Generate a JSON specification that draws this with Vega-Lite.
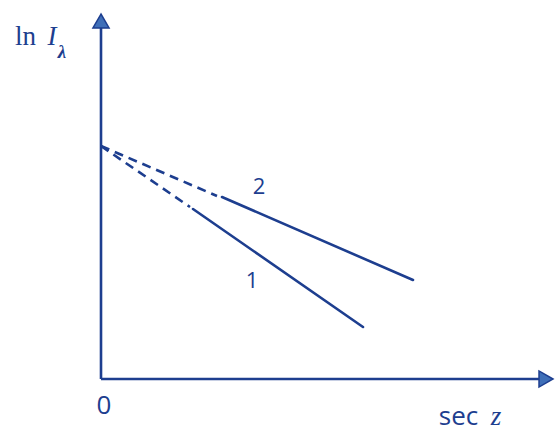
{
  "$schema": "https://vega.github.io/schema/vega-lite/v6.json",
  "width": 557,
  "height": 431,
  "autosize": {"type": "fit", "contains": "padding"},
  "padding": 0,
  "background": "white",
  "config": {"view": {"stroke": null}},
  "datasets": {
    "axes": [
      {"axis": "ln I", "x": 0, "y": 0, "x2": 0, "y2": 3.55},
      {"axis": "sec z", "x": 0, "y": 0, "x2": 4.42, "y2": 0}
    ],
    "heads": [
      {"axis": "ln I", "x": 0, "y": 3.58, "dir": "up"},
      {"axis": "sec z", "x": 4.45, "y": 0, "dir": "right"}
    ],
    "segments": [
      {"series": "1", "part": "extrapolated", "x": 0, "y": 2.33, "x2": 0.89, "y2": 1.72},
      {"series": "1", "part": "measured", "x": 0.92, "y": 1.70, "x2": 2.62, "y2": 0.52},
      {"series": "2", "part": "extrapolated", "x": 0, "y": 2.33, "x2": 1.16, "y2": 1.83},
      {"series": "2", "part": "measured", "x": 1.21, "y": 1.82, "x2": 3.12, "y2": 0.99}
    ],
    "seriesLabels": [
      {"label": "2", "x": 1.58, "y": 1.92},
      {"label": "1", "x": 1.51, "y": 0.98}
    ],
    "sansText": [
      {"t": "0", "x": 0.03, "y": -0.345},
      {"t": "sec", "x": 3.575, "y": -0.455}
    ],
    "romanText": [
      {"t": "ln", "x": -0.755, "y": 3.34}
    ],
    "italicText": [
      {"t": "I", "x": -0.49, "y": 3.34},
      {"t": "z", "x": 3.95, "y": -0.455}
    ]
  },
  "encoding": {
    "x": {"field": "x", "type": "quantitative", "scale": {"domain": [-1.01, 4.56], "nice": false, "zero": false}, "axis": null},
    "y": {"field": "y", "type": "quantitative", "scale": {"domain": [-0.52, 3.79], "nice": false, "zero": false}, "axis": null}
  },
  "layer": [
    {
      "data": {"name": "axes"},
      "mark": {"type": "rule", "color": "#1d3e8f", "strokeWidth": 2.6},
      "encoding": {"x2": {"field": "x2"}, "y2": {"field": "y2"}}
    },
    {
      "data": {"name": "heads"},
      "transform": [{"filter": "datum.dir === 'up'"}],
      "mark": {"type": "point", "shape": "triangle-up", "filled": true, "fill": "#3f6fb8", "stroke": "#1d3e8f", "strokeWidth": 1.5, "size": 260, "opacity": 1}
    },
    {
      "data": {"name": "heads"},
      "transform": [{"filter": "datum.dir === 'right'"}],
      "mark": {"type": "point", "shape": "triangle-right", "filled": true, "fill": "#3f6fb8", "stroke": "#1d3e8f", "strokeWidth": 1.5, "size": 260, "opacity": 1}
    },
    {
      "data": {"name": "segments"},
      "transform": [{"filter": "datum.part === 'extrapolated'"}],
      "mark": {"type": "rule", "color": "#1d3e8f", "strokeWidth": 2.6, "strokeDash": [9, 6]},
      "encoding": {"x2": {"field": "x2"}, "y2": {"field": "y2"}}
    },
    {
      "data": {"name": "segments"},
      "transform": [{"filter": "datum.part === 'measured'"}],
      "mark": {"type": "rule", "color": "#1d3e8f", "strokeWidth": 2.6, "strokeCap": "round"},
      "encoding": {"x2": {"field": "x2"}, "y2": {"field": "y2"}}
    },
    {
      "data": {"name": "seriesLabels"},
      "mark": {"type": "text", "font": "Open Sans", "fontSize": 22, "color": "#1d3e8f", "align": "center", "baseline": "middle"},
      "encoding": {"text": {"field": "label"}}
    },
    {
      "data": {"name": "sansText"},
      "mark": {"type": "text", "font": "Open Sans", "fontSize": 26, "color": "#1d3e8f", "align": "center", "baseline": "alphabetic"},
      "encoding": {"text": {"field": "t"}}
    },
    {
      "data": {"name": "romanText"},
      "mark": {"type": "text", "font": "Liberation Serif", "fontSize": 27, "color": "#1d3e8f", "align": "center", "baseline": "alphabetic"},
      "encoding": {"text": {"field": "t"}}
    },
    {
      "data": {"name": "italicText"},
      "mark": {"type": "text", "font": "Liberation Serif", "fontStyle": "italic", "fontSize": 27, "color": "#1d3e8f", "align": "center", "baseline": "alphabetic"},
      "encoding": {"text": {"field": "t"}}
    },
    {
      "data": {"values": [{"t": "λ", "x": -0.39, "y": 3.21}]},
      "mark": {"type": "text", "font": "Liberation Serif", "fontStyle": "italic", "fontWeight": "bold", "fontSize": 19, "color": "#1d3e8f", "align": "center", "baseline": "alphabetic"},
      "encoding": {"text": {"field": "t"}}
    }
  ]
}
